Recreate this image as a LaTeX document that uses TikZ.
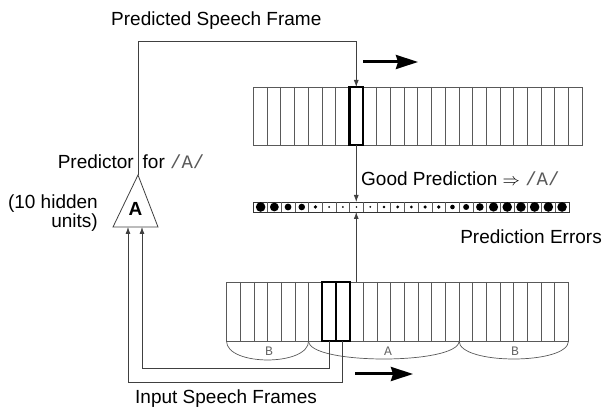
\documentclass[tikz,border=0pt]{standalone}
\usepackage{fontspec}
\setmainfont{Liberation Sans}
\setmonofont{Liberation Mono}
\usetikzlibrary{arrows.meta}
\newcommand{\mono}[1]{{\ttfamily\color{black!65}#1}}
\begin{document}
\begin{tikzpicture}[x=1pt,y=-1pt,
  ln/.style={draw=black!75,line width=0.8pt},
  cellrow/.style={draw=black!65,line width=0.7pt},
  strip/.style={cellrow,inner sep=0pt,outer sep=0pt},
  boldcell/.style={draw=black,line width=2.2pt,minimum width=13.7pt,minimum height=58pt,inner sep=0pt,outer sep=0pt},
  thinarrow/.style={ln,-{Latex[length=7pt,width=5pt]}},
  bigarrow/.style={line width=3pt,-{Stealth[length=22pt,width=14pt,inset=2pt]}},
  lbl/.style={font=\fontsize{19}{17}\selectfont,inner sep=0pt},
  seg/.style={font=\fontsize{13}{13}\ttfamily\selectfont,text=black!60,inner sep=0pt}
]
\useasboundingbox (0,0) rectangle (603,411);

% top strip (predicted frames)
\node[strip,minimum width=328.8pt,minimum height=58pt] (topstrip) at (417.8,116) {};
\foreach \i in {1,...,23} \draw[cellrow] ({253.4+13.7*\i},87) -- ++(0,58);
\node[boldcell] (pcell) at (356.25,116) {};

% prediction error row
\node[strip,draw=black!80,minimum width=315.1pt,minimum height=10pt] (errs) at (411.35,207) {};
\foreach \i in {1,...,22} \draw[cellrow] ({253.8+13.7*\i},202) -- ++(0,10);
\foreach \r [count=\i from 0] in {4.8,4.4,3.4,3.3,1.8,1.0,1.0,0.9,1.0,1.4,1.6,1.6,1.8,1.8,2.3,3.0,3.8,4.6,4.8,4.8,4.8,4.8,4.8}
  \fill ({253.8+13.7*\i+6.85},207) circle (\r pt);

% bottom strip (input frames)
\node[strip,minimum width=342pt,minimum height=59pt] (instrip) at (397.5,311.5) {};
\foreach \i in {1,...,24} \draw[cellrow] ({226.5+13.68*\i},282) -- ++(0,59);
\node[boldcell,minimum height=59pt] (ic1) at (329.2,311.5) {};
\node[boldcell,minimum height=59pt] (ic2) at (342.8,311.5) {};

% segment arcs
\draw[cellrow] (226.5,341) .. controls (226.5,366.3) and (308.6,366.3) .. (308.6,341);
\draw[cellrow] (308.6,341) .. controls (308.6,365) and (459.1,365) .. (459.1,341);
\draw[cellrow] (459.1,341) .. controls (459.1,365) and (568.5,365) .. (568.5,341);
\node[seg] (sb1) at (269,351) {B};
\node[seg] (sa) at (388,351) {A};
\node[seg] (sb2) at (515,351) {B};

% predictor triangle
\coordinate (apex) at (138,175);
\coordinate (bl) at (113,227);
\coordinate (br) at (158,227);
\draw[ln] (apex) -- (bl) -- (br) -- cycle;
\node[lbl,font=\fontsize{19}{19}\bfseries\selectfont] (predA) at (135.5,209) {A};
\coordinate (in1) at (128,227);
\coordinate (in2) at (142,227);
\coordinate (corner) at (138,41.7);

% connectors
\draw[thinarrow] (apex) -- (corner) -| (pcell.north);
\draw[thinarrow] (pcell.south) -- (pcell.south |- errs.north);
\draw[thinarrow] (instrip.north -| pcell.south) -- (errs.south -| pcell.south);
\draw[thinarrow] (ic1.south) -- ++(0,27) -| (in2);
\draw[thinarrow] (ic2.south) -- ++(0,41) -| (in1);

% motion arrows
\coordinate (ta1) at (363,62);
\coordinate (ta2) at (418,62);
\draw[bigarrow] (ta1) -- (ta2);
\coordinate (ba1) at (355,374);
\coordinate (ba2) at (413,374);
\draw[bigarrow] (ba1) -- (ba2);

% labels
\node[lbl,anchor=west] (t1) at (111,21) {Predicted Speech Frame};
\node[lbl,anchor=east] (t2) at (134,162) {Predictor};
\node[lbl,anchor=west] (t3) at (142.5,162) {for \mono{/A/}};
\node[lbl,anchor=east,align=right] (t4) at (98,213) {(10 hidden\\units)};
\node[lbl,anchor=west] (t5) at (361,179) {Good Prediction $\Rightarrow$ \mono{/A/}};
\node[lbl,anchor=east] (t6) at (602,237) {Prediction Errors};
\node[lbl,anchor=west] (t7) at (135,399) {Input Speech Frames};
\end{tikzpicture}
\end{document}
